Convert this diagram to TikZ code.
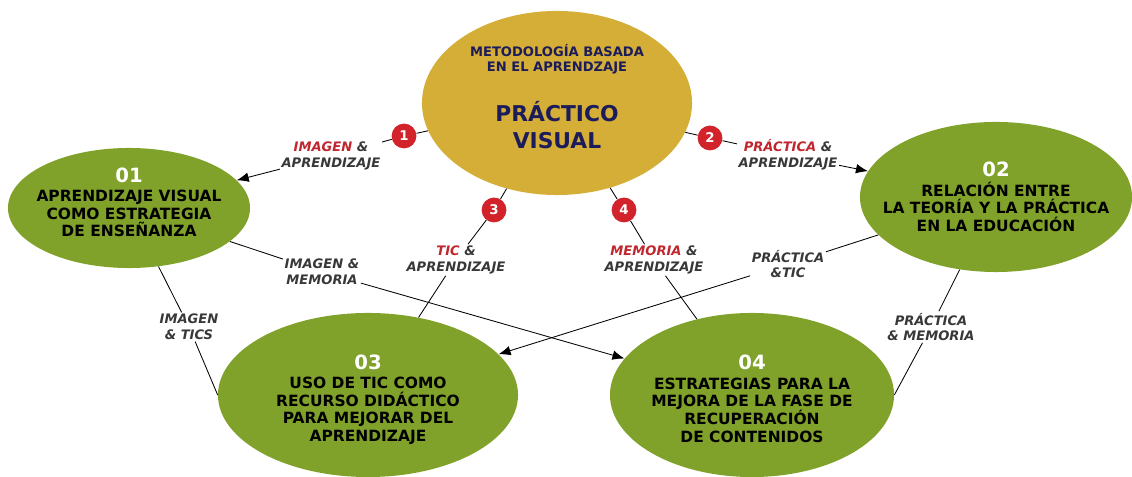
\documentclass[tikz,border=0pt]{standalone}
\usepackage{fontspec}
\setmainfont{DejaVu Sans}
\usetikzlibrary{shapes.geometric,arrows.meta}
\definecolor{oro}{HTML}{D4AE37}
\definecolor{verde}{HTML}{80A12A}
\definecolor{rojo}{HTML}{D2232A}
\definecolor{rojotxt}{HTML}{C0262D}
\definecolor{gris}{HTML}{383838}
\definecolor{marino}{HTML}{1C1C5A}
\newcommand{\ctop}{\fontsize{9.3}{10.6}\selectfont}
\newcommand{\cbig}{\fontsize{15.5}{18}\selectfont}
\newcommand{\nnum}{\color{white}\fontsize{14}{15}\selectfont}
\newcommand{\rj}[1]{\textcolor{rojotxt}{#1}}
\newcommand{\alza}[1]{\rule[-#1]{0pt}{0pt}}
\newcommand{\baja}[1]{\rule{0pt}{#1}}
\tikzset{
  centro/.style={ellipse,fill=oro,inner xsep=-40pt,inner ysep=-30pt,align=center,text=marino,
    font=\bfseries\fontsize{9}{10.6}\selectfont},
  tema/.style={ellipse,fill=verde,inner xsep=-40pt,inner ysep=-30pt,align=center,
    font=\bfseries\fontsize{11}{12.6}\selectfont},
  badge/.style={circle,fill=rojo,minimum size=0.62cm,inner sep=0pt,text=white,
    font=\bfseries\fontsize{9.5}{10}\selectfont},
  rel/.style={align=center,text=gris,inner sep=1pt,
    font=\bfseries\itshape\fontsize{9.3}{11.3}\selectfont},
  enlace/.style={draw=black,line width=0.6pt},
  flecha/.style={enlace,-{Latex[length=3mm,width=2.4mm]}}
}
\begin{document}
\begin{tikzpicture}[x=0.025cm,y=-0.025cm]
            \useasboundingbox (0,0) rectangle (1132,477);
            %Nodes
            \node[centro,minimum width=6.75cm,minimum height=4.6cm] at (557,103) (mv)
              {\ctop METODOLOGÍA BASADA\\\ctop EN EL APRENDZAJE\\[18pt]\cbig PRÁCTICO\\[6.5pt]\cbig VISUAL\alza{9pt}};
            \node[tema,minimum width=6.05cm,minimum height=3.0cm] at (129,208) (n1)
              {\nnum 01\\[1pt]APRENDIZAJE VISUAL\\COMO ESTRATEGIA\\DE ENSEÑANZA\alza{8pt}};
            \node[tema,minimum width=6.8cm,minimum height=3.75cm] at (996,197) (n2)
              {\nnum 02\\[1pt]RELACIÓN ENTRE\\LA TEORÍA Y LA PRÁCTICA\\EN LA EDUCACIÓN};
            \node[tema,minimum width=7.5cm,minimum height=4.1cm] at (368,395) (n3)
              {\nnum\baja{17pt}03\\[1pt]USO DE TIC COMO\\RECURSO DIDÁCTICO\\PARA MEJORAR DEL\\APRENDIZAJE};
            \node[tema,minimum width=7.1cm,minimum height=4.1cm] at (752,395) (n4)
              {\nnum\baja{16pt}04\\[1pt]ESTRATEGIAS PARA LA\\MEJORA DE LA FASE DE\\RECUPERACIÓN\\DE CONTENIDOS};

            \node[badge] at (404,136) (b1) {1};
            \node[badge] at (710,138) (b2) {2};
            \node[badge] at (494,210) (b3) {3};
            \node[badge] at (624,210) (b4) {4};

            \node[rel] at (331,156) (l1) {\rj{IMAGEN} \&\\APRENDIZAJE};
            \node[rel] at (788,155) (l2) {\rj{PRÁCTICA} \&\\APRENDIZAJE};
            \node[rel] at (456,260) (l3) {\rj{TIC} \&\\APRENDIZAJE};
            \node[rel] at (654,260) (l4) {\rj{MEMORIA} \&\\APRENDIZAJE};
            \node[rel] at (322,272) (l5) {IMAGEN \&\\MEMORIA};
            \node[rel] at (788,264) (l6) {PRÁCTICA\\\&TIC};
            \node[rel] at (189,327) (l7) {IMAGEN\\\& TICS};
            \node[rel] at (931,327) (l8) {PRÁCTICA\\\& MEMORIA};

            %Lines
            \draw[enlace] (mv) -- (b1);
            \draw[enlace] (b1) -- (l1);
            \draw[flecha] (l1) -- (n1);
            \draw[enlace] (mv) -- (b2);
            \draw[enlace] (b2) -- (l2);
            \draw[flecha] (l2) -- (n2);
            \draw[enlace] (mv) -- (b3);
            \draw[enlace] (b3) -- (l3);
            \draw[enlace] (l3) -- (n3);
            \draw[enlace] (mv) -- (b4);
            \draw[enlace] (b4) -- (l4);
            \draw[enlace] (l4) -- (n4);
            \draw[enlace] (n1) -- (l5);
            \draw[flecha] (l5) -- (n4);
            \draw[enlace] (n2) -- (l6);
            \draw[flecha] (l6) -- (n3);
            \draw[enlace] (n1) -- (l7);
            \draw[enlace] (l7) -- (n3.west);
            \draw[enlace] (n2) -- (l8);
            \draw[enlace] (l8) -- (n4.east);
\end{tikzpicture}
\end{document}
